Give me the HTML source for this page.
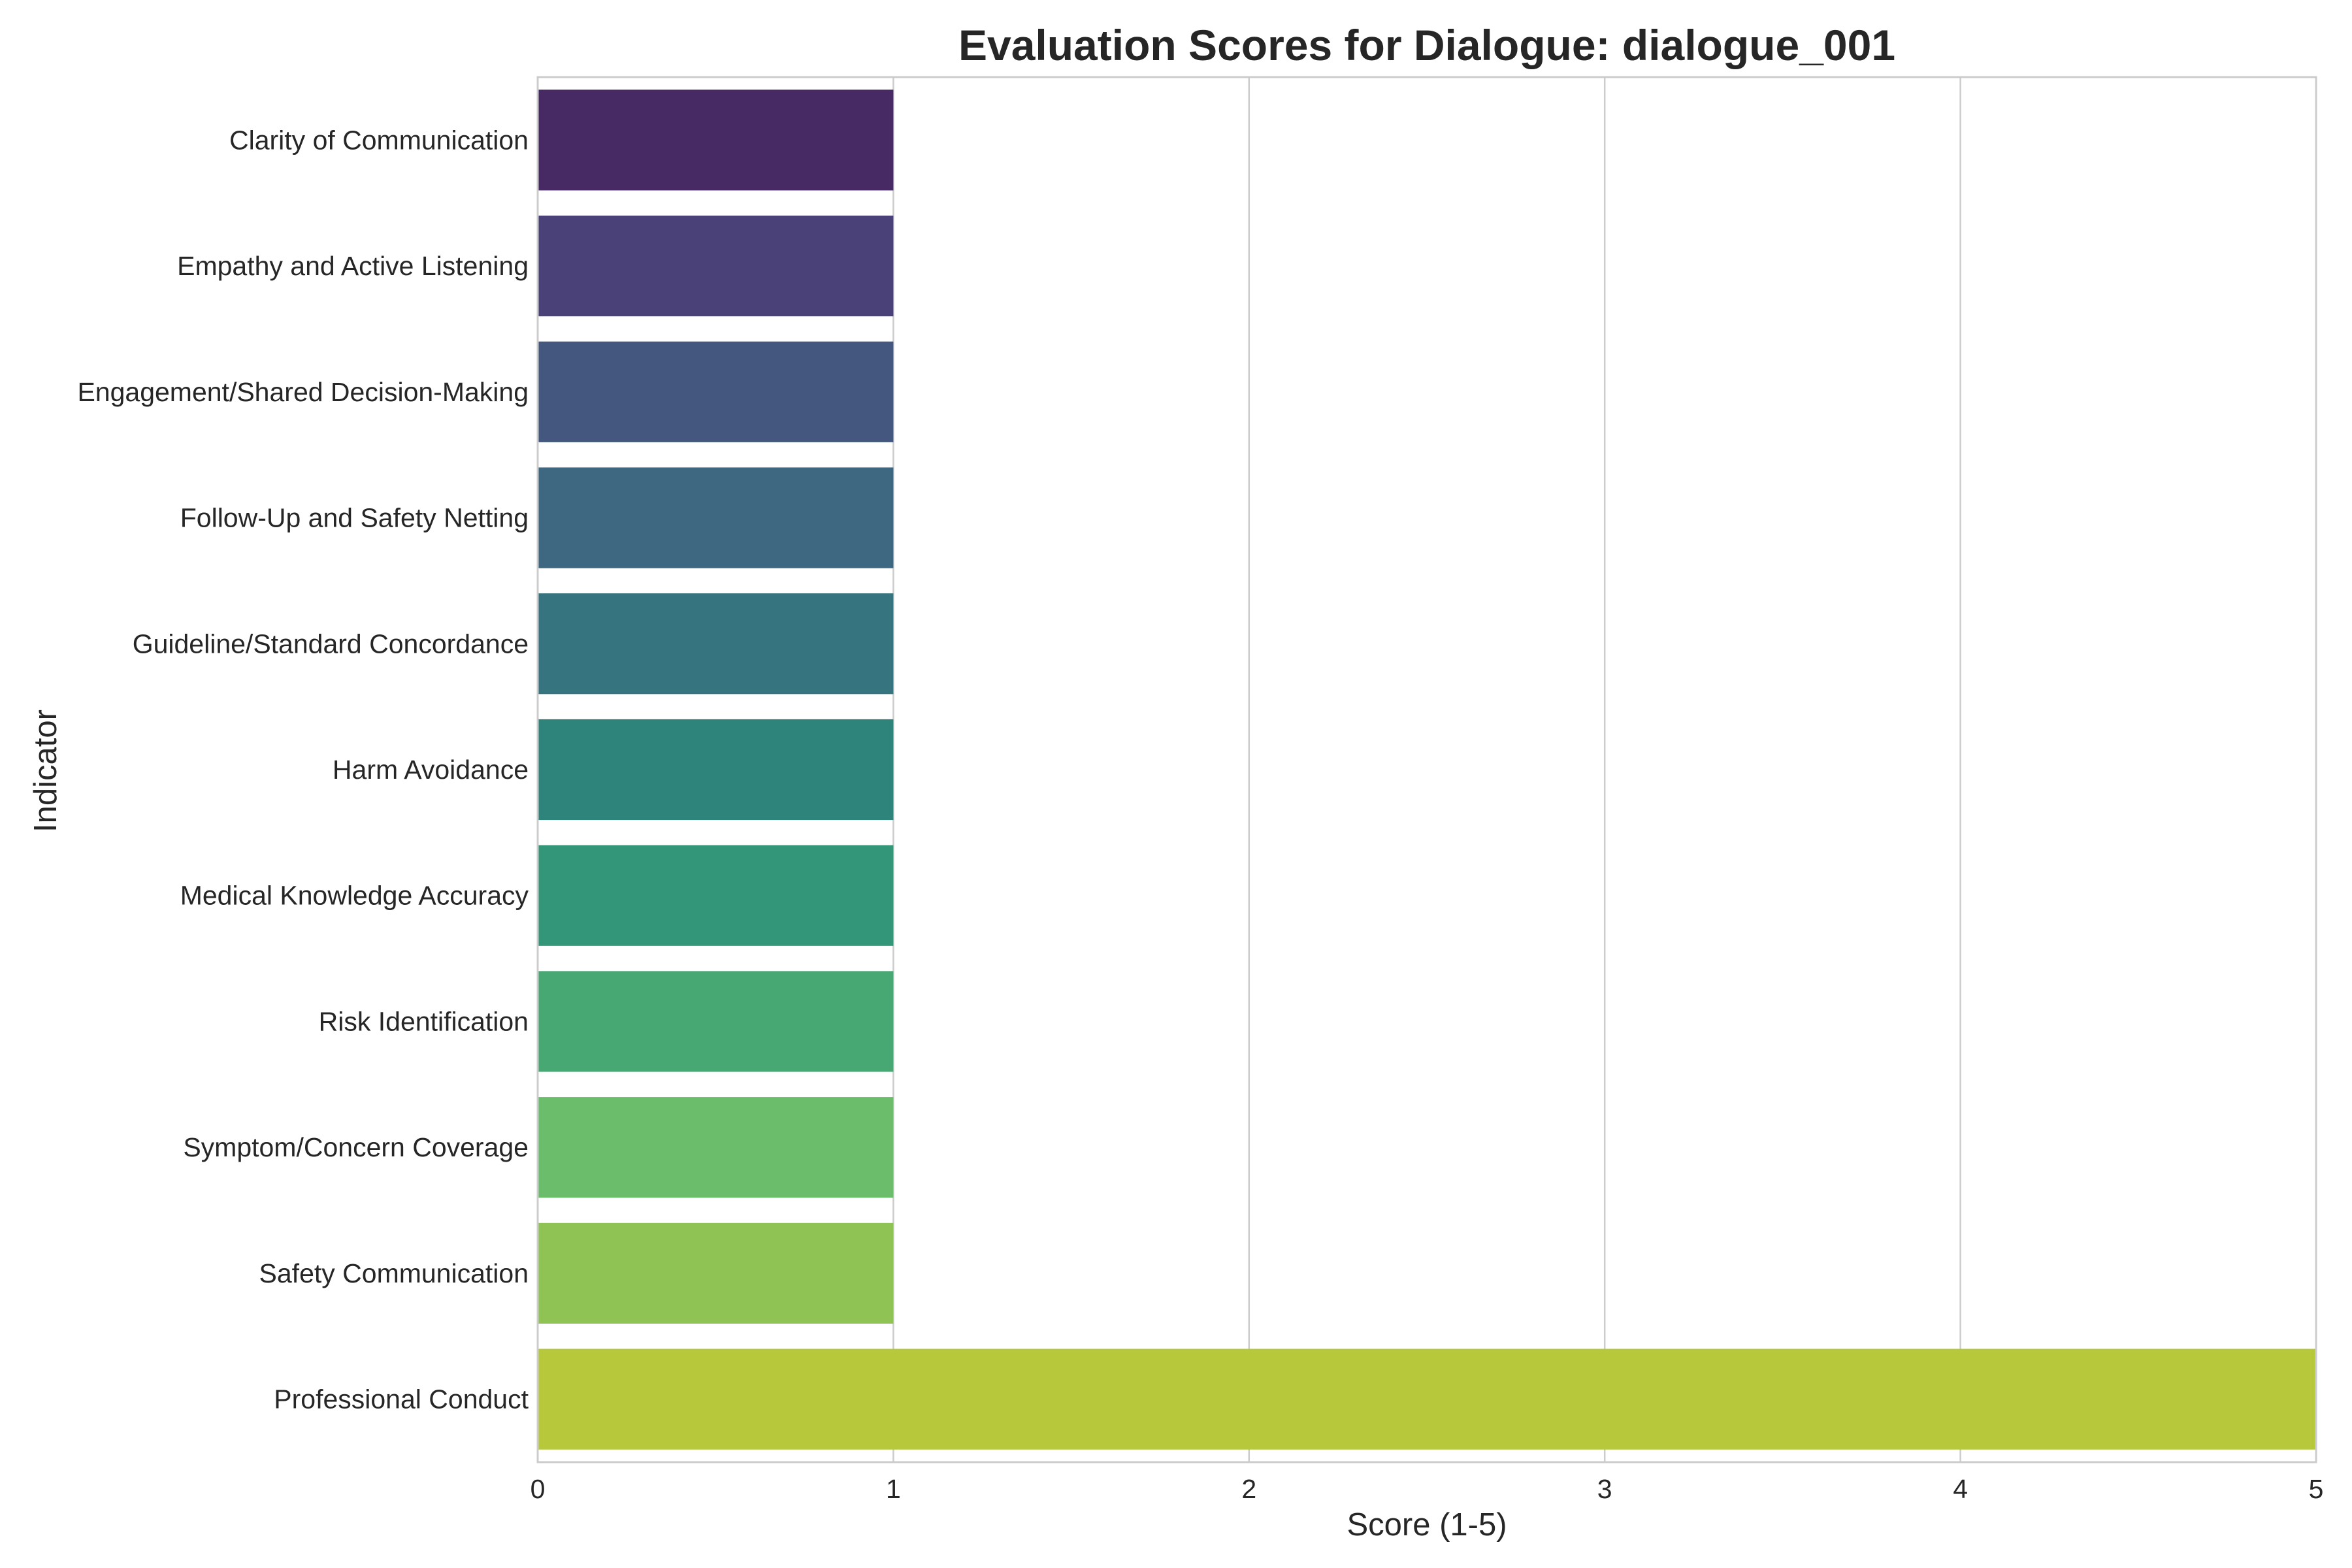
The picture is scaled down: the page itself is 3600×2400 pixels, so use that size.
<!DOCTYPE html>
<html><head><meta charset="utf-8"><style>
html,body{margin:0;padding:0;background:#fff}
svg{display:block;font-family:"Liberation Sans",Arial,sans-serif}
</style></head><body>
<svg id="chart" width="3600" height="2400" viewBox="0 0 3600 2400" xmlns="http://www.w3.org/2000/svg">
<rect width="3600" height="2400" fill="#fff"/>
<g id="grid"></g>
<g id="bars"></g>
<rect x="823" y="118" width="2722" height="2120" fill="none" stroke="#cccccc" stroke-width="3"/>
<g id="yticks"></g>
<g id="xticks"></g>
<text x="2184" y="92" text-anchor="middle" font-size="66" font-weight="bold" fill="#262626">Evaluation Scores for Dialogue: dialogue_001</text>
<text x="2184" y="2350" text-anchor="middle" font-size="49" fill="#262626">Score (1-5)</text>
<text x="0" y="0" transform="translate(86,1180) rotate(-90)" text-anchor="middle" font-size="49" fill="#262626">Indicator</text>
</svg>
<script>
const categories = ["Clarity of Communication","Empathy and Active Listening","Engagement/Shared Decision-Making","Follow-Up and Safety Netting","Guideline/Standard Concordance","Harm Avoidance","Medical Knowledge Accuracy","Risk Identification","Symptom/Concern Coverage","Safety Communication","Professional Conduct"];
const scores = [1,1,1,1,1,1,1,1,1,1,5];
const xTicks = [0,1,2,3,4,5];
const colors = ["#472a63","#4a4178","#44587f","#3e6782","#36757f","#2e837a","#339679","#48a873","#6cbd6b","#8fc455","#b7c93a"];
const L=823,R=3545,T=118,B=2238,xMax=5;
const NS="http://www.w3.org/2000/svg";
const x=v=>L+(R-L)*v/xMax;
const band=(B-T)/categories.length;
const yC=i=>T+band*(i+0.5);
const grid=document.getElementById('grid'),bars=document.getElementById('bars'),yt=document.getElementById('yticks'),xt=document.getElementById('xticks');
xTicks.forEach(t=>{
  const l=document.createElementNS(NS,'line');
  l.setAttribute('x1',x(t));l.setAttribute('x2',x(t));l.setAttribute('y1',T);l.setAttribute('y2',B);
  l.setAttribute('stroke','#cccccc');l.setAttribute('stroke-width','2.5');
  
  
  grid.appendChild(l);
  const tx=document.createElementNS(NS,'text');
  tx.setAttribute('x',x(t));tx.setAttribute('y',B+55);tx.setAttribute('text-anchor','middle');
  tx.setAttribute('font-size','41');tx.setAttribute('fill','#262626');tx.textContent=t;
  
  
  xt.appendChild(tx);
});
categories.forEach((c,i)=>{
  const h=band*0.8;
  const r=document.createElementNS(NS,'rect');
  r.setAttribute('x',x(0));r.setAttribute('y',yC(i)-h/2);r.setAttribute('width',x(scores[i])-x(0));r.setAttribute('height',h);
  r.setAttribute('fill',colors[i]);
  
  
  bars.appendChild(r);
  const tx=document.createElementNS(NS,'text');
  tx.setAttribute('x',L-14);tx.setAttribute('y',yC(i)+14);tx.setAttribute('text-anchor','end');
  tx.setAttribute('font-size','41');tx.setAttribute('fill','#262626');tx.textContent=c;
  
  
  yt.appendChild(tx);
});
</script>
</body></html>
